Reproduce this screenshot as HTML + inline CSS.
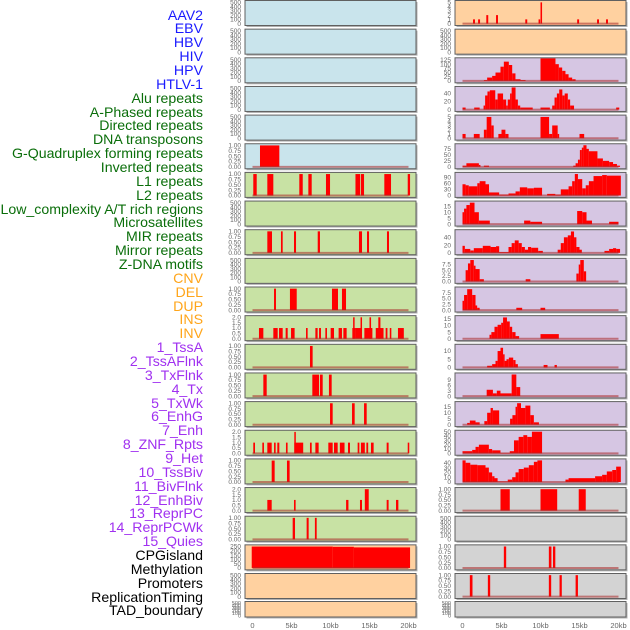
<!DOCTYPE html>
<html><head><meta charset="utf-8">
<style>
html,body{margin:0;padding:0;background:#fff;}
#wrap{position:relative;width:630px;height:630px;overflow:hidden;font-family:"Liberation Sans",sans-serif;}
#labels div{position:absolute;right:427px;font-size:14.15px;line-height:14px;white-space:nowrap;}
svg{position:absolute;left:0;top:0;}
</style></head>
<body>
<div id="wrap">
<div id="labels"></div>
<svg id="chart" width="630" height="630"></svg>
</div>
<script>
// ---- data ----
const trackLabels = ["AAV2","EBV","HBV","HIV","HPV","HTLV-1","Alu repeats","A-Phased repeats","Directed repeats","DNA transposons","G-Quadruplex forming repeats","Inverted repeats","L1 repeats","L2 repeats","Low_complexity A/T rich regions","Microsatellites","MIR repeats","Mirror repeats","Z-DNA motifs","CNV","DEL","DUP","INS","INV","1_TssA","2_TssAFlnk","3_TxFlnk","4_Tx","5_TxWk","6_EnhG","7_Enh","8_ZNF_Rpts","9_Het","10_TssBiv","11_BivFlnk","12_EnhBiv","13_ReprPC","14_ReprPCWk","15_Quies","CPGisland","Methylation","Promoters","ReplicationTiming","TAD_boundary"];
const labelGroups = ["virus","virus","virus","virus","virus","virus","rep","rep","rep","rep","rep","rep","rep","rep","rep","rep","rep","rep","rep","sv","sv","sv","sv","sv","chrom","chrom","chrom","chrom","chrom","chrom","chrom","chrom","chrom","chrom","chrom","chrom","chrom","chrom","chrom","other","other","other","other","other"];
const xTickValues = [0,5,10,15,20];
const xTickLabels = ["0","5kb","10kb","15kb","20kb"];
const ticksEmpty = [0,100,200,300,400,500];
const ticksUnit = [0,0.25,0.5,0.75,1];
const ticksTwo = [0,0.5,1,1.5,2];

// left column segments [startKb, endKb, value]
const segL5 = [[0.96,3.44,1]];
const segL6 = [[0.1,0.54,1],[1.9,2.67,1],[6.0,6.44,1],[7.16,7.59,1],[9.42,9.94,1],[13.2,13.8,1],[13.9,14.3,1],[16.9,17.76,1],[19.9,20.2,1]];
const segL8 = [[1.9,2.5,1],[3.65,3.87,1],[5.32,5.58,1],[8.36,8.65,1],[13.65,14.04,1],[14.68,14.94,1],[17.24,17.5,1]];
const segL10 = [[2.76,3.01,1],[4.8,5.67,1],[10.19,10.96,1],[11.47,11.99,1]];
const segL11 = [[0.83,1.39,1],[2.67,3.23,1],[3.4,3.87,1],[4.25,4.51,1],[4.94,5.4,1],[6.86,7.07,1],[8.06,8.35,1],[8.53,8.78,1],[9.34,9.55,1],[10.02,10.45,1],[11.04,11.47,1],[11.65,12.07,1],[12.8,13.15,1],[12.9,13.05,2],[13.15,14.04,1],[13.85,14.04,2],[14.34,15.37,1],[15.0,15.2,2],[15.8,16.8,1],[16.13,16.4,2],[17.07,17.3,1],[17.6,17.8,1],[18.65,19.4,1]];
const segL12 = [[7.37,7.71,1]];
const segL13 = [[1.39,1.82,1],[7.67,8.53,1],[8.65,9.0,1],[9.8,10.15,1]];
const segL14 = [[9.94,10.28,1],[12.76,13.1,1],[14.3,14.64,1]];
const segL15 = [[0.1,0.32,1],[1.26,1.47,1],[1.9,2.46,1],[2.76,2.97,1],[3.18,3.44,1],[4.29,4.5,1],[5.36,6.5,1],[5.36,5.53,2],[7.37,7.59,1],[8.06,8.48,1],[9.72,10.28,1],[10.45,10.92,1],[11.2,11.8,1],[12.24,12.5,1],[13.48,13.7,1],[13.9,14.4,1],[14.6,14.83,1],[15.19,15.53,1],[17.2,17.45,1],[19.9,20.1,1]];
const segL16 = [[2.46,2.84,1],[4.42,4.76,1]];
const segL17 = [[1.9,2.46,1],[5.32,5.53,1],[12.0,12.3,1],[13.78,14.04,1],[14.4,14.9,2],[17.2,17.45,1],[18.4,18.7,1]];
const segL18 = [[5.15,5.45,1],[6.94,7.2,1],[8.0,8.23,1]];
const segL19 = [[-0.1,10.3,250],[10.3,13.0,247],[13.0,20.2,240]];

// right column segments
const segR0 = [[1.35,1.6,1],[2.0,2.25,1],[3.05,3.3,2],[4.3,4.55,2],[8.05,8.3,1],[9.75,9.95,1],[10.0,10.2,5],[14.7,14.95,1],[17.25,17.5,1],[18.4,18.65,1]];
const segR2 = [[2.74,3.16,5],[3.16,3.8,20],[3.8,4.23,30],[4.23,4.87,50],[4.87,5.3,85],[5.3,5.94,115],[5.94,6.37,95],[6.37,6.79,45],[6.79,7.44,10],[7.44,8.08,5],[10.0,11.92,135],[11.92,12.35,100],[12.35,12.78,80],[12.78,13.2,60],[13.2,13.6,40],[13.6,14.06,20],[14.06,14.5,10]];
const segR3 = [[0,0.4,5],[1.5,2.2,5],[2.7,2.9,10],[2.9,3.2,35],[3.2,3.5,45],[3.5,4.2,48],[4.2,4.5,25],[4.5,5.2,40],[5.2,5.6,25],[5.6,5.8,10],[5.8,6.1,25],[6.1,6.3,40],[6.3,6.8,55],[6.8,7.1,25],[7.1,7.4,10],[7.4,9.0,5],[10,11.2,5],[11.5,11.8,10],[11.8,12.1,30],[12.1,12.4,40],[12.4,12.8,50],[12.8,13.1,35],[13.1,13.5,40],[13.5,13.8,25],[13.8,14.3,10],[19.7,20.1,5]];
const segR4 = [[0,0.4,1],[1.45,2.2,1],[2.74,3.1,2],[3.1,3.7,5],[3.7,4.0,3],[4.6,5.0,1],[5.0,5.5,2],[5.5,5.9,1],[10,11.1,5],[11.1,11.5,1],[11.5,12.2,3],[12.2,12.35,1],[15,15.6,1]];
const segR5 = [[0,0.5,5],[0.5,2.1,15],[2.1,2.3,8],[2.74,3.4,5],[14.2,14.5,5],[14.5,14.8,15],[14.8,15.05,30],[15.05,15.3,70],[15.3,15.5,80],[15.5,15.9,90],[15.9,16.2,75],[16.2,17.3,65],[17.3,18.0,35],[18.0,18.8,25],[18.8,19.3,20],[19.3,19.8,12],[19.8,20.2,5]];
const segR6 = [[0,0.4,55],[0.4,0.8,50],[0.8,1.9,45],[1.9,2.2,60],[2.2,2.95,70],[2.95,3.4,55],[3.4,4.7,15],[4.7,5.9,5],[5.9,6.8,10],[6.8,7.35,20],[7.35,8.3,40],[8.3,9.15,35],[9.15,10.2,38],[10.85,11.9,8],[11.9,12.6,5],[12.6,13.6,30],[13.6,14.06,45],[14.06,14.4,70],[14.4,14.8,105],[14.8,15.35,80],[15.35,15.8,35],[15.8,16.2,50],[16.2,16.8,70],[16.8,17.9,95],[17.9,18.5,100],[18.5,20.3,97]];
const segR7 = [[0,0.2,10],[0.2,0.5,13],[0.5,0.94,16],[0.94,1.54,18],[1.54,2.1,10],[2.1,3.5,3],[7.9,8.7,3],[8.7,10.2,2],[14.7,15.35,11],[15.35,15.9,10],[15.9,16.6,3],[18.8,20.0,2]];
const segR8 = [[0,0.3,18],[0.3,1.0,10],[1.0,1.45,6],[1.45,2.6,12],[2.6,3.6,18],[3.6,4.3,15],[4.3,4.7,17],[4.7,5.9,2],[5.9,6.3,15],[6.3,6.7,25],[6.7,7.2,32],[7.2,7.6,25],[7.6,8.0,15],[8.0,8.4,8],[8.4,8.8,15],[8.8,9.7,13],[9.7,10.3,5],[12.2,12.6,8],[12.6,13.0,25],[13.0,13.5,40],[13.5,13.9,45],[13.9,14.3,55],[14.3,14.6,40],[14.6,15.0,15],[15.0,15.3,8],[18.2,18.8,5],[18.8,19.3,10],[19.3,19.7,12],[19.7,20.2,10]];
const segR9 = [[0.4,0.7,5],[0.7,1.0,8],[1.0,1.45,9.5],[1.45,1.67,7],[1.67,2.2,5.5],[2.2,2.74,1],[8.1,8.7,1],[14.6,14.9,3.5],[14.9,15.1,7.5],[15.1,15.55,9.5],[15.55,15.85,4.5]];
const segR10 = [[0,0.2,4],[0.2,0.6,6.5],[0.6,1.24,9],[1.24,1.67,6.5],[1.67,1.88,2],[1.88,2.2,1],[6.9,7.65,1],[10,10.6,1]];
const segR11 = [[3.46,3.7,3],[3.7,4.1,5],[4.1,4.5,9],[4.5,4.96,10.5],[4.96,5.2,12],[5.2,5.7,16],[5.7,6.06,13],[6.06,6.37,9],[6.37,6.8,5],[6.8,7.26,2],[10,12.35,3.5]];
const segR12 = [[3.16,3.8,1],[3.8,4.23,2],[4.23,4.5,4],[4.5,4.87,10],[4.87,5.2,12],[5.2,5.4,8],[5.4,5.64,4],[5.64,5.94,5],[5.94,6.5,6],[6.5,6.8,4.5],[6.8,7.1,2],[10.4,10.9,1.5],[11.8,12.1,1.5]];
const segR13 = [[3.1,3.9,3.5],[3.9,4.4,1.5],[4.4,4.87,3],[4.87,6.3,1.5],[6.3,6.9,12],[6.9,7.4,5]];
const segR14 = [[0.6,0.94,1.5],[0.94,1.67,3.5],[1.67,2.2,2],[2.8,3.16,3],[3.16,3.6,10],[3.6,3.9,14],[3.9,4.7,12],[6.1,6.4,5],[6.4,6.8,8],[6.8,7.0,15],[7.0,7.5,18],[7.5,8.06,14],[8.06,8.7,16],[8.7,9.15,8],[9.15,9.8,2]];
const segR15 = [[0,1.24,5],[1.24,1.67,8],[1.67,2.1,15],[2.1,3.38,20],[3.38,3.8,10],[3.8,4.87,7],[4.87,6.06,1],[6.06,6.6,5],[6.6,7.2,30],[7.2,7.8,38],[7.8,8.3,42],[8.3,8.9,38],[8.9,10.2,50]];
const segR16 = [[0,0.4,45],[0.4,1.0,40],[1.0,1.9,36],[1.9,2.95,35],[2.95,3.38,30],[3.38,3.8,20],[3.8,4.1,12],[4.1,4.5,8],[4.5,5.8,1],[5.8,6.37,5],[6.37,6.8,10],[6.8,7.2,20],[7.2,7.86,27],[7.86,8.5,30],[8.5,9.15,35],[9.15,9.6,42],[9.6,10.2,45],[13.2,13.6,5],[13.6,17.0,8],[17.0,17.9,12],[17.9,18.5,15],[18.5,19.2,22],[19.2,19.7,25],[19.7,20.3,32]];
const segR17 = [[4.87,6.06,1],[10,12.14,1],[14.9,15.8,1]];
const segR19 = [[5.3,5.6,1],[11.07,11.4,1],[11.6,11.9,1]];
const segR20 = [[0.94,1.28,1],[3.25,3.55,1],[11.07,11.37,1],[12.44,12.73,1],[14.5,14.8,1]];

// panel definitions: col, row, background, y ticks, y max, segments
const panels = [
 ["L",0,"blue",ticksEmpty,520,null],["L",1,"blue",ticksEmpty,520,null],["L",2,"blue",ticksEmpty,520,null],
 ["L",3,"blue",ticksEmpty,520,null],["L",4,"blue",ticksEmpty,520,null],["L",5,"blue",ticksUnit,1.03,segL5],
 ["L",6,"green",ticksUnit,1.03,segL6],["L",7,"green",ticksEmpty,520,null],["L",8,"green",ticksUnit,1.03,segL8],
 ["L",9,"green",ticksEmpty,520,null],["L",10,"green",ticksUnit,1.03,segL10],["L",11,"green",ticksTwo,2.06,segL11],
 ["L",12,"green",ticksUnit,1.03,segL12],["L",13,"green",ticksUnit,1.03,segL13],["L",14,"green",ticksUnit,1.03,segL14],
 ["L",15,"green",ticksTwo,2.06,segL15],["L",16,"green",ticksUnit,1.03,segL16],["L",17,"green",ticksTwo,2.06,segL17],
 ["L",18,"green",ticksUnit,1.03,segL18],["L",19,"orange",[0,50,100,150,200,250],258,segL19],
 ["L",20,"orange",ticksEmpty,520,null],["L",21,"orange",ticksEmpty,520,null],
 ["R",0,"orange",[0,1,2,3,4,5],5.2,segR0],["R",1,"orange",ticksEmpty,520,null],
 ["R",2,"purple",[0,25,50,75,100,125],132,segR2],["R",3,"purple",[0,20,40],55,segR3],
 ["R",4,"purple",[0,1,2,3,4,5],5.2,segR4],["R",5,"purple",[0,25,50,75],92,segR5],
 ["R",6,"purple",[0,30,60,90],108,segR6],["R",7,"purple",[0,5,10,15],18.5,segR7],
 ["R",8,"purple",[0,20,40],57,segR8],["R",9,"purple",[0,2.5,5,7.5],9.8,segR9],
 ["R",10,"purple",[0,2.5,5,7.5],9.5,segR10],["R",11,"purple",[0,5,10,15],16.6,segR11],
 ["R",12,"purple",[0,5,10],13.5,segR12],["R",13,"purple",[0,3,6,9],12.3,segR13],
 ["R",14,"purple",[0,5,10,15],18.5,segR14],["R",15,"purple",[0,10,20,30,40,50],51,segR15],
 ["R",16,"purple",[0,10,20,30,40],46,segR16],["R",17,"gray",ticksUnit,1.03,segR17],
 ["R",18,"gray",ticksEmpty,520,null],["R",19,"gray",ticksUnit,1.03,segR19],
 ["R",20,"gray",ticksUnit,1.03,segR20],["R",21,"gray",ticksEmpty,520,null]
];

// ---- rendering ----
const NS="http://www.w3.org/2000/svg";
const svg=document.getElementById('chart');
const bgColors={blue:"#c9e4ec",green:"#c8e2a4",orange:"#ffd1a0",purple:"#d6c6e3",gray:"#d3d3d3"};
const groupColors={virus:"#1a1aff",rep:"#0a6e0a",sv:"#ffa51a",chrom:"#a030f0",other:"#000"};
const colLeft={L:245,R:455};
const panelW=171;
function rowTop(r){return r<21?0.5+28.65*r:601.5;}
function rowH(r){return r<21?25:15.5;}
function xScale(col,kb){return colLeft[col]+7.5+kb*7.8;}
function yScale(top,h,ymax,v){const lo=-0.04*ymax;return top+h-1-(v-lo)/(ymax-lo)*(h-2);}
function mk(tag,attrs){const e=document.createElementNS(NS,tag);for(const k in attrs)e.setAttribute(k,attrs[k]);return e;}
function fmt(t,ticks){
  if(ticks===ticksUnit) return t.toFixed(2);
  if(ticks===ticksTwo) return t.toFixed(1);
  if(ticks.indexOf(2.5)>=0) return t.toFixed(1);
  return String(t);
}

// labels
const lab=document.getElementById('labels');
trackLabels.forEach((t,i)=>{
  const d=document.createElement('div');
  
  
  d.textContent=t;
  d.style.top=(15+i*13.86-7.5)+'px';
  d.style.color=groupColors[labelGroups[i]];
  lab.appendChild(d);
});

panels.forEach(p=>{
  const [col,row,bg,ticks,ymax,segs]=p;
  const x0=colLeft[col], top=rowTop(row), h=rowH(row);
  const g=mk('g',{});
  
  
  svg.appendChild(g);
  const sh=mk('rect',{x:x0+1.5,y:top+1.5,width:panelW,height:h,fill:'#b0b0b0'});
  g.appendChild(sh);
  const r=mk('rect',{x:x0,y:top,width:panelW,height:h,fill:bgColors[bg]});
  
  
  g.appendChild(r);
  if(segs){
    const y0=yScale(top,h,ymax,0);
    segs.forEach(s=>{
      const xa=xScale(col,s[0]), xb=xScale(col,s[1]);
      const yv=Math.max(top+0.5,yScale(top,h,ymax,s[2]));
      const b=mk('rect',{x:xa,y:yv,width:Math.max(1.5,xb-xa),height:y0-yv,fill:'#ff0000'});
      
      
      g.appendChild(b);
    });
    const bl=mk('line',{x1:xScale(col,0),x2:xScale(col,20),y1:y0,y2:y0,stroke:'rgba(170,40,40,0.55)','stroke-width':2});
    
    
    g.appendChild(bl);
  }
  const bd=mk('rect',{x:x0,y:top,width:panelW,height:h,fill:'none',stroke:'#606060','stroke-width':1});
  
  
  g.appendChild(bd);
  ticks.forEach(t=>{
    const tx=mk('text',{x:x0-4,y:yScale(top,h,ymax,t)+2.2,'font-size':h<20?5.5:6.5,fill:'#666','text-anchor':'end','font-family':'Liberation Sans, sans-serif'});
    
    
    tx.textContent=fmt(t,ticks);
    g.appendChild(tx);
  });
});

// x axes
["L","R"].forEach(col=>{
  xTickValues.forEach((v,i)=>{
    const tx=mk('text',{x:xScale(col,v),y:628,'font-size':7.5,fill:'#666','text-anchor':'middle','font-family':'Liberation Sans, sans-serif'});
    
    
    tx.textContent=xTickLabels[i];
    svg.appendChild(tx);
  });
});
</script>
</body></html>
